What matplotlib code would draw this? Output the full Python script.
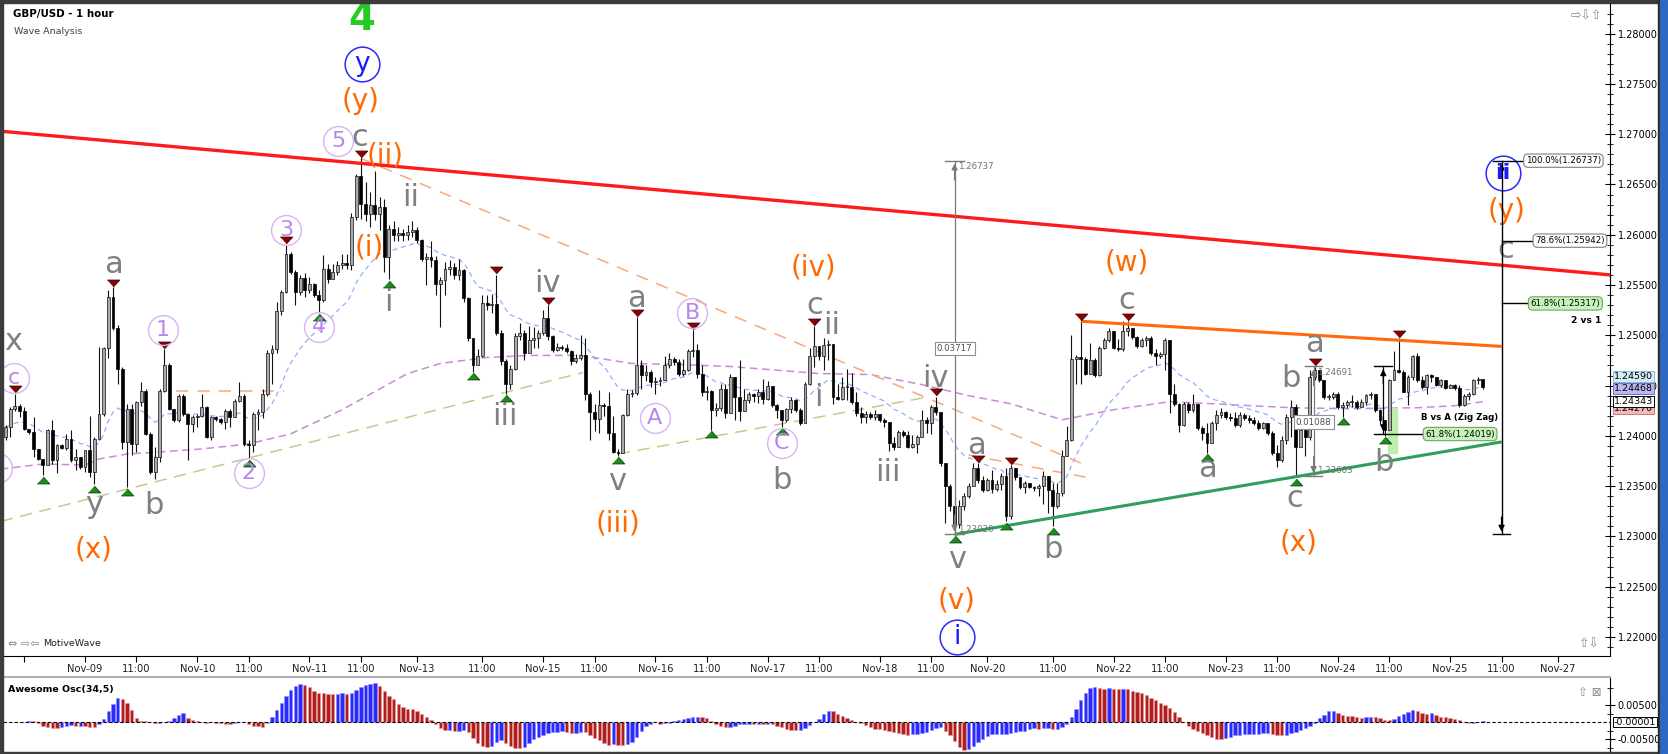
import matplotlib
matplotlib.use("Agg")
import matplotlib.pyplot as plt
import matplotlib.transforms as mtransforms
from matplotlib.patches import Rectangle
from matplotlib.ticker import MultipleLocator, FormatStrFormatter
import numpy as np
import pandas as pd

plt.rcParams['font.family'] = ['DejaVu Sans']

# ---------------------------------------------------------------- data
FIRST_BAR = "2016-11-08 07:00"   # first visible hourly bar
BAR0 = 17                        # bars before Nov-09 00:00 (bar index k = 0)

# GBP/USD hourly candles, pips above 1.20000, k = -17 .. 299
open_first = 399
close_pips = [
    409, 427, 430, 425, 407, 404, 387, 377, 371, 406, 376, 391, 388, 397, 376, 379, 369,
    386, 364, 397, 422, 487, 538, 507, 467, 394, 427, 392, 434, 445, 402, 364, 379, 445, 470,
    427, 416, 440, 422, 412, 419, 420, 429, 399, 419, 417, 414, 425, 419, 435, 440, 392,
    391, 422, 424, 442, 482, 486, 524, 543, 581, 563, 543, 557, 545, 551, 540, 535, 566, 556,
    563, 570, 572, 570, 618, 658, 631, 621, 630, 621, 628, 578, 606, 600, 602, 600, 603, 605,
    595, 576, 578, 575, 551, 555, 566, 568, 560, 565, 537, 497, 470, 479, 532, 530,
    531, 502, 474, 452, 467, 499, 502, 482, 495, 497, 502, 517, 499, 485, 488, 487, 484, 474,
    477, 480, 442, 424, 417, 431, 430, 403, 384, 383, 421, 442, 443, 470, 461, 464, 454, 455,
    456, 470, 476, 473, 462, 466, 484, 485, 462, 444, 445, 426, 428, 447,
    423, 459, 439, 425, 436, 442, 440, 444, 437, 450, 431, 426, 416, 427, 436, 426, 413, 452,
    479, 489, 479, 490, 491, 439, 437, 449, 449, 434, 423, 419, 422, 419, 422, 416, 414, 393,
    389, 404, 401, 389, 392, 399, 416, 413, 429, 424, 373, 350, 330, 312, 330,
    340, 350, 368, 356, 346, 356, 347, 352, 360, 320, 368, 359, 349, 353, 349, 348, 350, 360,
    346, 330, 343, 380, 396, 476, 478, 476, 462, 475, 461, 487, 495, 504, 487, 486, 504, 507,
    498, 489, 495, 497, 482, 479, 481, 495, 442, 432, 411, 432, 426, 432, 408, 403, 393,
    413, 421, 424, 419, 418, 411, 421, 418, 416, 413, 408, 413, 403, 383, 376, 396, 419, 429,
    389, 406, 399, 459, 466, 456, 439, 439, 442, 429, 431, 434, 434, 429, 434, 441, 442, 426,
    416, 406, 456, 466, 464, 444, 459, 479, 456, 449, 461, 459, 451, 456, 448, 451, 448, 431,
    440, 442, 456, 457, 449,
]
high_pips = [
    411, 429, 442, 432, 429, 407, 419, 387, 377, 407, 416, 392, 392, 402, 406, 387, 379,
    386, 420, 399, 488, 488, 545, 548, 510, 469, 432, 432, 435, 454, 447, 404, 389, 447, 486,
    472, 427, 442, 442, 422, 421, 422, 442, 430, 420, 420, 418, 427, 427, 437, 454, 442,
    396, 424, 427, 447, 485, 490, 533, 545, 590, 583, 565, 560, 562, 558, 552, 545, 580, 571,
    571, 574, 581, 581, 622, 660, 676, 652, 643, 663, 638, 636, 610, 614, 608, 606, 610, 614,
    608, 596, 582, 594, 579, 558, 573, 575, 572, 576, 566, 538, 497, 486, 540, 540,
    541, 560, 505, 476, 470, 502, 512, 505, 509, 508, 505, 525, 530, 500, 492, 490, 491, 485,
    481, 500, 497, 444, 432, 446, 433, 444, 420, 387, 422, 447, 446, 518, 475, 470, 466, 459,
    459, 479, 482, 478, 476, 476, 486, 505, 491, 470, 450, 446, 433, 452,
    452, 462, 459, 475, 447, 444, 443, 447, 457, 455, 450, 432, 426, 428, 439, 437, 428, 454,
    487, 509, 489, 497, 495, 479, 452, 459, 467, 463, 444, 429, 425, 424, 426, 422, 418, 414,
    399, 406, 406, 405, 401, 401, 426, 419, 431, 439, 421, 373, 352, 340, 336,
    343, 353, 373, 373, 360, 358, 366, 356, 363, 368, 371, 368, 359, 355, 353, 350, 352, 365,
    360, 353, 353, 386, 410, 500, 480, 514, 478, 492, 477, 489, 497, 507, 502, 496, 514, 514,
    507, 499, 497, 499, 499, 486, 483, 497, 495, 452, 433, 434, 434, 442, 432, 410, 413,
    415, 426, 428, 425, 423, 424, 424, 423, 421, 419, 416, 414, 413, 405, 391, 400, 422, 436,
    432, 410, 406, 466, 469, 466, 456, 442, 444, 444, 434, 436, 441, 436, 437, 442, 444, 441,
    427, 416, 457, 484, 497, 466, 461, 480, 482, 460, 462, 462, 459, 457, 456, 452, 452, 451,
    442, 444, 457, 459, 457,
]
low_pips = [
    396, 399, 425, 419, 406, 402, 379, 376, 361, 371, 372, 363, 387, 386, 374, 366, 367,
    364, 359, 352, 396, 420, 477, 505, 452, 387, 349, 381, 384, 430, 401, 362, 357, 374, 444,
    426, 414, 414, 420, 376, 404, 409, 419, 398, 396, 415, 412, 407, 409, 420, 434, 390,
    378, 384, 406, 418, 440, 452, 482, 520, 542, 561, 530, 540, 538, 542, 538, 523, 533, 552,
    556, 560, 566, 566, 565, 615, 616, 614, 608, 615, 605, 563, 556, 594, 594, 594, 595, 598,
    592, 574, 550, 568, 540, 508, 540, 560, 556, 555, 533, 494, 464, 470, 478, 525,
    522, 500, 470, 442, 447, 466, 495, 475, 482, 487, 487, 500, 495, 483, 484, 485, 482, 470,
    472, 475, 436, 396, 405, 403, 420, 396, 383, 380, 383, 420, 439, 441, 447, 455, 449, 442,
    450, 456, 468, 470, 460, 460, 465, 478, 458, 440, 436, 406, 420, 425,
    418, 427, 416, 415, 432, 433, 434, 433, 432, 436, 429, 418, 409, 414, 423, 424, 411, 414,
    451, 469, 475, 466, 475, 432, 436, 436, 436, 432, 420, 413, 413, 417, 416, 414, 409, 385,
    386, 391, 399, 388, 388, 383, 399, 403, 402, 421, 370, 313, 325, 302, 308,
    326, 338, 350, 353, 344, 345, 343, 345, 346, 315, 317, 356, 347, 343, 348, 345, 340, 332,
    323, 310, 328, 340, 380, 395, 452, 452, 461, 466, 459, 460, 486, 493, 486, 484, 484, 499,
    496, 487, 488, 489, 480, 470, 477, 466, 423, 430, 404, 410, 423, 424, 406, 396, 383,
    400, 406, 418, 417, 415, 409, 409, 416, 413, 411, 406, 407, 401, 381, 369, 374, 392, 399,
    359, 389, 380, 396, 456, 454, 437, 436, 437, 427, 419, 428, 429, 427, 429, 431, 437, 424,
    412, 400, 430, 459, 463, 444, 431, 456, 454, 447, 442, 454, 450, 449, 447, 448, 446, 429,
    430, 436, 441, 452, 447,
]

# slow moving average (purple dashed): bar k, pips
slow_ma_k = [-18, -9, 0, 3, 9, 16, 25, 35, 44, 55, 62, 69, 76, 86, 95, 106, 117, 127, 138,
             157, 168, 179, 189, 198, 209, 220, 232, 241, 258, 270, 285, 293, 299]
slow_ma_pips = [367, 372, 371, 377, 382, 384, 387, 392, 402, 426, 444, 462, 472, 478, 480, 480,
                472, 471, 469, 462, 461, 451, 440, 432, 416, 426, 434, 432, 428, 427, 428, 430, 434]

# swing markers (bar k)
swing_high_k = [-15, 6, 17, 43, 59, 88, 99, 118, 130, 156, 182, 191, 198, 213, 223, 263, 281]
swing_low_k = [-9, 2, 9, 35, 50, 65, 83, 90, 114, 134, 149, 186, 197, 207, 240, 259, 269, 278]

# wave labels: (text, k, pips)
gray_labels = [('x', -15.4, 494), ('a', 6, 570), ('y', 1.9, 332), ('b', 14.8, 331),
               ('c', 58.8, 697), ('ii', 69.7, 637), ('i', 64.8, 533), ('iii', 89.8, 419),
               ('iv', 98.8, 552), ('v', 113.8, 355), ('a', 117.9, 537), ('b', 149, 356),
               ('c', 156, 530), ('i', 156.8, 438), ('ii', 159.8, 510), ('iii', 171.8, 364),
               ('iv', 182, 457), ('v', 186.5, 277), ('a', 190.8, 390), ('b', 207, 287),
               ('c', 222.9, 535), ('a', 240, 368), ('b', 258, 457), ('a', 262.9, 492),
               ('c', 258.8, 338), ('b', 277.8, 374), ('c', 304, 585)]
orange_labels = [('(y)', 59, 733), ('(ii)', 64.2, 679), ('(i)', 60.8, 587), ('(x)', 1.9, 287),
                 ('(iii)', 114, 313), ('(iv)', 155.8, 567), ('(v)', 186.5, 236),
                 ('(w)', 222.9, 572), ('(x)', 259.5, 294), ('(y)', 304, 624)]
purple_circles = [('', -18.8, 368), ('c', -15.2, 458), ('1', 16.7, 505), ('2', 35, 363),
                  ('3', 43, 605), ('4', 50, 508), ('5', 54.2, 693), ('A', 121.9, 418),
                  ('B', 129.9, 522), ('C', 149, 393)]
blue_circles = [('y', 59.2, 770), ('i', 186.5, 200), ('ii', 303.3, 661)]
degree_label = ('4', 59.2, 815)

# trend lines: ((k0, pips0), (k1, pips1))
red_line = ((-18, 703), (326.5, 560))
orange_line = ((213, 514), (303, 489))
green_line = ((186, 302), (303, 394))
orange_dash = [((59, 676), (213, 373)), ((189, 381), (214, 359)), ((19.5, 445), (42.5, 445))]
tan_dash = [((-18, 315), (106.5, 463)), ((114, 382), (180.7, 439))]

# measurements
wave_top, wave_bottom = 1.26737, 1.23020
fib_ratios = [1.0, 0.786, 0.618]
zz_top, zz_bottom = 1.24691, 1.23603
last_prices = [(1.24270, '#f2b8b8', '#c08080'), (1.24343, 'white', 'black'),
               (1.24468, '#b8b8f2', '#7070c0'), (1.24590, '#d2ecf8', '#8cbcd8')]


def P(p):
    return 1.2 + np.asarray(p, dtype=float) / 1e4


# ---------------------------------------------------------------- bars
c = P(close_pips)
o = np.r_[P(open_first), c[:-1]]
h = np.maximum.reduce([P(high_pips), o, c])
l = np.minimum.reduce([P(low_pips), o, c])
k = np.arange(len(c)) - BAR0

cal = []
t = pd.Timestamp(FIRST_BAR)
while len(cal) < 360:
    wd, hr = t.weekday(), t.hour
    if not ((wd == 4 and hr >= 23) or wd == 5 or (wd == 6 and hr < 21)):
        cal.append(t)
    t += pd.Timedelta(hours=1)

tick_pos, tick_lab = [], []
for i, tt in enumerate(cal):
    kk = i - BAR0
    if kk > 326:
        break
    week_open = tt.weekday() == 6 and i > 0 and cal[i - 1].weekday() == 4
    if week_open or (tt.hour == 0 and tt.weekday() not in (0, 6)):
        lab = tt.strftime('%b-%d')
    elif tt.hour == 11:
        lab = '11:00'
    else:
        continue
    tick_pos.append(kk)
    tick_lab.append(lab if kk > -10 else '')

# ---------------------------------------------------------------- figure
W, H = 1668, 754
fig = plt.figure(figsize=(W / 100, H / 100), dpi=100, facecolor='white')


def fx(px):
    return px / W


def fy(py):
    return 1 - py / H


ax = fig.add_axes([fx(3), fy(656), fx(1610) - fx(3), fy(4) - fy(656)])
ao = fig.add_axes([fx(3), fy(752), fx(1610) - fx(3), fy(677) - fy(752)])

XL = (-17.54, 326.2)
ax.set_xlim(*XL)
ax.set_ylim(1.21811, 1.28295)

# moving averages
fast = pd.Series(c).ewm(span=20, adjust=False).mean()
ax.plot(k, fast, color='#8fb0ff', lw=0.9, dashes=(4, 3), zorder=2)
ax.plot(slow_ma_k, P(slow_ma_pips), color='#c98ad6', lw=1.1, dashes=(5, 3), zorder=2)

for (a0, a1) in tan_dash:
    ax.plot([a0[0], a1[0]], P([a0[1], a1[1]]), color='#c9c78f', lw=1.1, dashes=(8, 5), zorder=2)
for (a0, a1) in orange_dash:
    ax.plot([a0[0], a1[0]], P([a0[1], a1[1]]), color='#f9a77a', lw=1.1, dashes=(8, 6), zorder=2)

# candles
up = c >= o
ax.vlines(k, l, h, color='#111111', lw=0.8, zorder=3)
body = np.maximum(np.abs(c - o), 0.00006)
bot = np.minimum(o, c)
ax.bar(k[up], body[up], bottom=bot[up], width=0.62, color='#a9a9a9', edgecolor='#111111',
       lw=0.5, zorder=3)
ax.bar(k[~up], body[~up], bottom=bot[~up], width=0.62, color='#000000', edgecolor='#000000',
       lw=0.5, zorder=3)

for (a0, a1), col, lw in [(red_line, '#ff1a1a', 2.4), (orange_line, '#ff6a10', 2.2),
                          (green_line, '#2f9d5c', 2.2)]:
    ax.plot([a0[0], a1[0]], P([a0[1], a1[1]]), color=col, lw=lw, zorder=4,
            solid_capstyle='butt')

# swing markers
tri_dn = [(-1, 0.55), (1, 0.55), (0, -0.55)]
tri_up = [(-1, -0.55), (1, -0.55), (0, 0.55)]
tr_hi = mtransforms.offset_copy(ax.transData, fig=fig, x=0, y=4.5, units='dots')
tr_lo = mtransforms.offset_copy(ax.transData, fig=fig, x=0, y=-4.5, units='dots')
hi_idx = np.array(swing_high_k) + BAR0
lo_idx = np.array(swing_low_k) + BAR0
ax.plot(k[hi_idx], h[hi_idx], ls='none', marker=tri_dn, ms=9, mfc='#8b0000', mec='#3a0000',
        mew=0.6, transform=tr_hi, zorder=5)
ax.plot(k[lo_idx], l[lo_idx], ls='none', marker=tri_up, ms=9, mfc='#1d8c1d', mec='#0a400a',
        mew=0.6, transform=tr_lo, zorder=5)

# wave labels
for txt, kk, pp in gray_labels:
    ax.text(kk, P(pp), txt, color='#808080', fontsize=22, ha='center', va='center', zorder=6)
for txt, kk, pp in orange_labels:
    ax.text(kk, P(pp), txt, color='#ff6a00', fontsize=20, ha='center', va='center', zorder=6)
for txt, kk, pp in purple_circles:
    ax.plot(kk, P(pp), 'o', ms=21.5, mfc='none', mec='#d8b2f6', mew=1.0, zorder=6)
    if txt:
        ax.text(kk, P(pp), txt, color='#b985ec', fontsize=16, ha='center', va='center',
                zorder=7)
for txt, kk, pp in blue_circles:
    ax.plot(kk, P(pp), 'o', ms=25, mfc='none', mec='#2a2aff', mew=1.1, zorder=6)
    ax.text(kk, P(pp), txt, color='#1a1aff', fontsize=19 if txt != 'ii' else 16,
            fontweight='bold' if txt == 'ii' else 'normal', ha='center', va='center', zorder=7)
ax.text(degree_label[1], P(degree_label[2]), degree_label[0], color='#22cc22', fontsize=28,
        fontweight='bold', ha='center', va='center', zorder=7)


# vertical price measurements
def measure(kk, top, bottom, color, top_lab=None, bot_lab=None, box=None, box_p=None, half=2.0):
    ax.plot([kk, kk], [bottom, top], color=color, lw=0.9, zorder=6)
    ax.plot([kk - half, kk + half], [top, top], color=color, lw=1.0, zorder=6)
    ax.plot([kk - half, kk + half], [bottom, bottom], color=color, lw=1.0, zorder=6)
    ax.annotate('', xy=(kk, top), xytext=(kk, top - 0.0022),
                arrowprops=dict(arrowstyle='-|>', color=color, lw=0.9, mutation_scale=9),
                zorder=6)
    ax.annotate('', xy=(kk, bottom), xytext=(kk, bottom + 0.0022),
                arrowprops=dict(arrowstyle='-|>', color=color, lw=0.9, mutation_scale=9),
                zorder=6)
    if top_lab:
        ax.text(kk + 0.8, top - 0.0006, top_lab, color='#707070', fontsize=6.2, ha='left',
                va='center', zorder=7)
    if bot_lab:
        ax.text(kk + 0.8, bottom + 0.0005, bot_lab, color='#707070', fontsize=6.2, ha='left',
                va='center', zorder=7)
    if box:
        ax.text(kk, box_p, box, color='#505050', fontsize=6.2, ha='center', va='center',
                zorder=8, bbox=dict(boxstyle='square,pad=0.25', fc='white', ec='#909090', lw=0.8))


measure(186, wave_top, wave_bottom, '#7a7a7a', '%.5f' % wave_top, '%.5f' % wave_bottom,
        '%.5f' % (wave_top - wave_bottom), 1.2487)
measure(262.8, zz_top, zz_bottom, '#7a7a7a', '%.5f' % zz_top, '%.5f' % zz_bottom,
        '%.5f' % (zz_top - zz_bottom), 1.24138, half=1.9)

# B vs A zig zag
zz_level = zz_top - 0.618 * (zz_top - zz_bottom)
kz = 277.7
ax.add_patch(Rectangle((278.7, 1.2383), 1.9, 0.0045, color='#b6eea6', alpha=0.9, zorder=2.5))
ax.plot([kz, kz], [zz_level, zz_top], color='black', lw=0.9, zorder=6)
ax.plot([kz - 1.9, kz + 1.9], [zz_top, zz_top], color='black', lw=1.0, zorder=6)
ax.plot([kz - 1.9, 286.3], [zz_level, zz_level], color='black', lw=1.0, zorder=6)
ax.annotate('', xy=(kz, zz_top), xytext=(kz, zz_top - 0.0020),
            arrowprops=dict(arrowstyle='-|>', color='black', lw=0.9, mutation_scale=9), zorder=6)
ax.annotate('', xy=(kz, zz_level), xytext=(kz, zz_level + 0.0020),
            arrowprops=dict(arrowstyle='-|>', color='black', lw=0.9, mutation_scale=9), zorder=6)
ax.text(285.7, 1.2418, 'B vs A (Zig Zag)', fontsize=6.2, fontweight='bold', ha='left',
        va='center', zorder=8)
ax.text(286.7, zz_level, '61.8%%(%.5f)' % zz_level, fontsize=6.2, ha='left', va='center',
        zorder=8, bbox=dict(boxstyle='round,pad=0.25,rounding_size=0.5', fc='#c8f2bc',
                            ec='#6aa860', lw=0.8))

# fib projection for wave (ii)
kf = 303
ax.plot([kf, kf], [wave_bottom, wave_top], color='black', lw=1.0, zorder=6)
ax.plot([kf - 1.8, kf + 1.8], [wave_bottom, wave_bottom], color='black', lw=1.0, zorder=6)
ax.annotate('', xy=(kf, wave_top), xytext=(kf, wave_top - 0.0020),
            arrowprops=dict(arrowstyle='-|>', color='black', lw=0.9, mutation_scale=9), zorder=6)
ax.annotate('', xy=(kf, wave_bottom), xytext=(kf, wave_bottom + 0.0020),
            arrowprops=dict(arrowstyle='-|>', color='black', lw=0.9, mutation_scale=9), zorder=6)
box_left = {1.0: 307.7, 0.786: 309.7, 0.618: 308.7}
for r in fib_ratios:
    lv = wave_bottom + r * (wave_top - wave_bottom)
    x0 = kf - 1.8 if r == 1.0 else kf
    ax.plot([x0, box_left[r]], [lv, lv], color='black', lw=1.0, zorder=6)
    fc = '#c8f2bc' if r == 0.618 else 'white'
    ec = '#6aa860' if r == 0.618 else '#808080'
    ax.text(box_left[r] + 0.5, lv, '%.1f%%(%.5f)' % (r * 100, lv), fontsize=6.2, ha='left',
            va='center', zorder=8, clip_on=False,
            bbox=dict(boxstyle='round,pad=0.25,rounding_size=0.5', fc=fc, ec=ec, lw=0.8))
ax.text(324.3, 1.2515, '2 vs 1', fontsize=6.6, fontweight='bold', ha='right', va='center',
        zorder=8)

# title
ax.text(fx(10) / (fx(1610) - fx(3)), 1 - 10 / 652, 'GBP/USD - 1 hour', transform=ax.transAxes,
        fontsize=7.4, fontweight='bold', ha='left', va='center')
ax.text(fx(11) / (fx(1610) - fx(3)), 1 - 27 / 652, 'Wave Analysis', transform=ax.transAxes,
        fontsize=6.8, color='#404040', ha='left', va='center')

# axes styling
for s in ['left', 'top']:
    ax.spines[s].set_visible(False)
ax.spines['bottom'].set_linewidth(0.8)
ax.spines['right'].set_linewidth(0.8)
ax.yaxis.tick_right()
ax.yaxis.set_major_locator(MultipleLocator(0.005))
ax.yaxis.set_minor_locator(MultipleLocator(0.001))
ax.yaxis.set_major_formatter(FormatStrFormatter('%.5f'))
ax.tick_params(axis='y', which='major', direction='inout', length=7, width=0.8, labelsize=7,
               pad=2)
ax.tick_params(axis='y', which='minor', direction='inout', length=4, width=0.6)
ax.set_xticks(tick_pos)
ax.set_xticklabels(tick_lab)
ax.tick_params(axis='x', direction='out', length=4, width=0.8, labelsize=7.2, pad=2,
               labelcolor='#202020')

ytr = mtransforms.blended_transform_factory(ax.transAxes, ax.transData)
for price, fc, ec in last_prices:
    ax.text(1.0025, price, '%.5f' % price, transform=ytr, fontsize=6.8, ha='left', va='center',
            clip_on=False, zorder=9,
            bbox=dict(boxstyle='square,pad=0.1', fc=fc, ec=ec, lw=0.7))

# window icons
ax.text(1.0 - 8 / 1607, 1 - 12 / 652, '\u21e8\u21e9\u21e7', transform=ax.transAxes,
        fontsize=9, color='#8a8a8a', ha='right', va='center')
ax.text(1.0 - 10 / 1607, 12 / 652, '\u21e7\u21e9', transform=ax.transAxes,
        fontsize=9, color='#8a8a8a', ha='right', va='center')
ax.text(5 / 1607, 12 / 652, '\u21d4 \u21e8\u21e6', transform=ax.transAxes,
        fontsize=8, color='#8a8a8a', ha='left', va='center')
ax.text(40 / 1607, 12 / 652, 'MotiveWave', transform=ax.transAxes,
        fontsize=6.8, color='#202020', ha='left', va='center')

# ---------------------------------------------------------------- awesome oscillator
mid = pd.Series((h + l) / 2)
aosc = (mid.rolling(5, min_periods=1).mean() - mid.rolling(34, min_periods=1).mean()).values
rising = np.r_[True, np.diff(aosc) > 0]
ao.bar(k[rising], aosc[rising], width=0.72, color='#2a2aff', edgecolor='#8c8cff', lw=0.4)
ao.bar(k[~rising], aosc[~rising], width=0.72, color='#b01e1e', edgecolor='#e49a9a', lw=0.4)
ao.axhline(0, color='black', lw=0.8, dashes=(3, 2))
ao.set_xlim(*XL)
ao.set_ylim(-0.00882, 0.01324)
ao.set_xticks([])
for s in ['left', 'bottom']:
    ao.spines[s].set_visible(False)
ao.spines['top'].set_color('#b0b0b0')
ao.spines['top'].set_linewidth(1.5)
ao.spines['right'].set_linewidth(0.8)
ao.yaxis.tick_right()
ao.set_yticks([-0.005, 0.005])
ao.set_yticklabels(['-0.00500', '0.00500'])
ao.set_yticks([0.01, 0.0025, -0.0025, -0.0075], minor=True)
ao.tick_params(axis='y', which='major', direction='inout', length=7, width=0.8, labelsize=7,
               pad=2)
ao.tick_params(axis='y', which='minor', direction='inout', length=4, width=0.6)
aotr = mtransforms.blended_transform_factory(ao.transAxes, ao.transData)
ao.text(1.0025, 0, '-0.00001', transform=aotr, fontsize=6.8, ha='left', va='center',
        clip_on=False, zorder=9, bbox=dict(boxstyle='square,pad=0.1', fc='white', ec='black',
                                           lw=0.7))
ao.text(5 / 1607, 0.83, 'Awesome Osc(34,5)', transform=ao.transAxes, fontsize=6.8,
        fontweight='bold', ha='left', va='center')
ao.text(1.0 - 8 / 1607, 0.8, '\u21e7 \u22a0', transform=ao.transAxes, fontsize=8.5,
        color='#8a8a8a', ha='right', va='center')

# ---------------------------------------------------------------- window frame
frame = [((0, 0), 1668, 3, '#3c3c3c'), ((0, 0), 3, 754, '#3c3c3c'),
         ((0, 752), 1668, 2, '#3c3c3c'), ((1658, 0), 2, 754, '#2a2a2a'),
         ((1660, 0), 8, 754, '#2f66c0')]
for (x0, y0), w, hh, col in frame:
    fig.add_artist(Rectangle((fx(x0), fy(y0 + hh)), w / W, hh / H, transform=fig.transFigure,
                             color=col, zorder=20))

fig.savefig('out.png', dpi=100, facecolor='white')
